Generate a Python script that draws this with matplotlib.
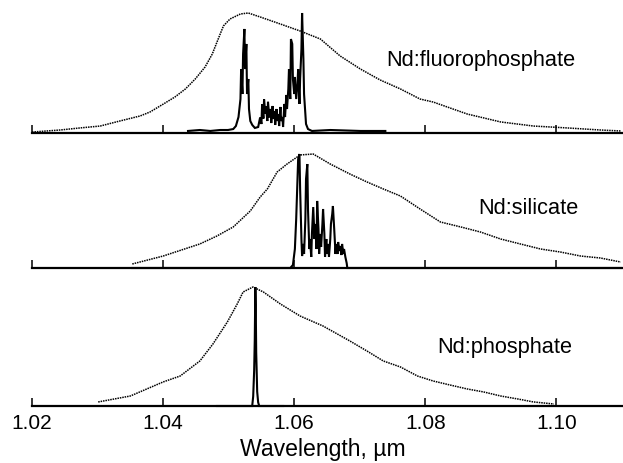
import matplotlib
matplotlib.use("Agg")
from matplotlib import pyplot as plt

plt.rcParams['font.family'] = ['Liberation Sans', 'DejaVu Sans']

# wavelength (um) and normalised intensity
# --- Nd:fluorophosphate ---
fp_fl_wl = [1.0200, 1.0243, 1.0273, 1.0304, 1.0334, 1.0365, 1.0380, 1.0403, 1.0418, 1.0434,
            1.0449, 1.0464, 1.0475, 1.0484, 1.0492, 1.0502, 1.0518, 1.0530, 1.0548, 1.0579,
            1.0609, 1.0640, 1.0670, 1.0701, 1.0731, 1.0762, 1.0792, 1.0812, 1.0864, 1.0915,
            1.0965, 1.1017, 1.1067, 1.1098]
fp_fl_int = [0.008, 0.025, 0.042, 0.058, 0.100, 0.142, 0.175, 0.250, 0.300, 0.367,
             0.450, 0.550, 0.658, 0.783, 0.892, 0.950, 0.992, 1.000, 0.967, 0.908,
             0.850, 0.783, 0.642, 0.533, 0.442, 0.367, 0.283, 0.258, 0.158, 0.092,
             0.058, 0.042, 0.025, 0.017]

fp_las_wl = [1.0438, 1.0456, 1.0472, 1.0487, 1.0499, 1.0507, 1.0511, 1.0515, 1.0518, 1.0519,
             1.0521, 1.0522, 1.0524, 1.0525, 1.0527, 1.0528, 1.0530, 1.0531, 1.0533, 1.0536,
             1.0540, 1.0545, 1.0548, 1.0550, 1.0551, 1.0553, 1.0554, 1.0556, 1.0557, 1.0559,
             1.0560, 1.0562, 1.0564, 1.0565, 1.0567, 1.0568, 1.0570, 1.0571, 1.0573, 1.0574,
             1.0576, 1.0577, 1.0579, 1.0580, 1.0582, 1.0583, 1.0585, 1.0586, 1.0588, 1.0589,
             1.0591, 1.0592, 1.0594, 1.0595, 1.0597, 1.0598, 1.0600, 1.0601, 1.0603, 1.0605,
             1.0606, 1.0608, 1.0609, 1.0611, 1.0612, 1.0614, 1.0615, 1.0617, 1.0618, 1.0621,
             1.0627, 1.0655, 1.0701, 1.0739]
fp_las_int = [0.017, 0.025, 0.017, 0.025, 0.025, 0.033, 0.058, 0.133, 0.283, 0.533,
              0.325, 0.658, 0.867, 0.533, 0.742, 0.325, 0.450, 0.200, 0.100, 0.067,
              0.042, 0.050, 0.130, 0.075, 0.240, 0.120, 0.280, 0.160, 0.220, 0.100,
              0.260, 0.130, 0.200, 0.083, 0.225, 0.117, 0.183, 0.067, 0.200, 0.100,
              0.158, 0.058, 0.217, 0.100, 0.133, 0.050, 0.242, 0.133, 0.317, 0.200,
              0.367, 0.533, 0.283, 0.783, 0.742, 0.450, 0.325, 0.467, 0.283, 0.408,
              0.533, 0.242, 0.450, 0.700, 1.000, 0.617, 0.325, 0.158, 0.075, 0.033,
              0.017, 0.025, 0.017, 0.017]

# --- Nd:silicate ---
si_fl_wl = [1.0353, 1.0400, 1.0456, 1.0482, 1.0507, 1.0533, 1.0548, 1.0559, 1.0574, 1.0589,
            1.0609, 1.0629, 1.0655, 1.0685, 1.0711, 1.0736, 1.0762, 1.0792, 1.0823, 1.0854,
            1.0884, 1.0915, 1.0945, 1.0976, 1.1006, 1.1037, 1.1067, 1.1098]
si_fl_int = [0.035, 0.104, 0.209, 0.278, 0.357, 0.496, 0.617, 0.687, 0.835, 0.904,
             0.983, 0.991, 0.904, 0.817, 0.748, 0.687, 0.626, 0.513, 0.400, 0.357,
             0.313, 0.252, 0.209, 0.165, 0.139, 0.104, 0.087, 0.052]

si_las_wl = [1.0353, 1.0594, 1.0598, 1.0601, 1.0603, 1.0605, 1.0606, 1.0608, 1.0609, 1.0611,
             1.0612, 1.0614, 1.0615, 1.0617, 1.0618, 1.0620, 1.0621, 1.0623, 1.0624, 1.0626,
             1.0627, 1.0629, 1.0631, 1.0632, 1.0634, 1.0635, 1.0637, 1.0638, 1.0640, 1.0641,
             1.0643, 1.0644, 1.0646, 1.0647, 1.0649, 1.0650, 1.0652, 1.0653, 1.0655, 1.0656,
             1.0658, 1.0659, 1.0661, 1.0663, 1.0664, 1.0666, 1.0667, 1.0669, 1.0670, 1.0672,
             1.0673, 1.0675, 1.0676, 1.0678, 1.0680, 1.0681, 1.1098]
si_las_int = [0.0, 0.0, 0.026, 0.165, 0.426, 0.774, 0.948, 0.991, 0.687, 0.252,
              0.104, 0.209, 0.122, 0.426, 0.774, 0.904, 0.513, 0.165, 0.252, 0.096,
              0.296, 0.530, 0.252, 0.383, 0.165, 0.583, 0.339, 0.122, 0.296, 0.183,
              0.383, 0.513, 0.296, 0.096, 0.252, 0.122, 0.209, 0.096, 0.252, 0.383,
              0.470, 0.539, 0.339, 0.122, 0.209, 0.122, 0.226, 0.148, 0.191, 0.113,
              0.209, 0.122, 0.165, 0.096, 0.043, 0.0, 0.0]

# --- Nd:phosphate ---
ph_fl_wl = [1.0301, 1.0350, 1.0400, 1.0426, 1.0456, 1.0476, 1.0498, 1.0513, 1.0522, 1.0537,
            1.0553, 1.0579, 1.0609, 1.0644, 1.0685, 1.0711, 1.0736, 1.0762, 1.0788, 1.0812,
            1.0838, 1.0864, 1.0889, 1.0915, 1.0941, 1.0965, 1.0996]
ph_fl_int = [0.034, 0.084, 0.202, 0.252, 0.378, 0.521, 0.706, 0.857, 0.958, 1.000,
             0.958, 0.857, 0.756, 0.672, 0.546, 0.462, 0.378, 0.328, 0.252, 0.210,
             0.176, 0.143, 0.118, 0.084, 0.059, 0.034, 0.017]

ph_las_wl = [1.04822, 1.05328, 1.05359, 1.05374, 1.05389, 1.05398, 1.05407, 1.05413, 1.05420,
             1.05427, 1.05435, 1.05450, 1.05466, 1.05832]
ph_las_int = [0.0, 0.0, 0.0, 0.08, 0.30, 0.55, 1.00, 0.85, 0.45, 0.30, 0.12, 0.03, 0.0, 0.0]

labels = ['Nd:fluorophosphate', 'Nd:silicate', 'Nd:phosphate']
xticks = [1.02, 1.04, 1.06, 1.08, 1.10]

W, H = 623, 464
fig = plt.figure(figsize=(W / 100, H / 100), dpi=100)

# (baseline px from top, peak height px)
panels = [(134, 120, fp_fl_wl, fp_fl_int, fp_las_wl, fp_las_int),
          (269, 115, si_fl_wl, si_fl_int, si_las_wl, si_las_int),
          (407, 119, ph_fl_wl, ph_fl_int, ph_las_wl, ph_las_int)]

axes = []
for i, (base, hgt, flw, fli, lw_, li) in enumerate(panels):
    ax = fig.add_axes([32 / W, (H - base) / H, 590 / W, hgt / H])
    ax.plot(flw, fli, color='black', lw=1.1, ls=(0, (1, 0.6)), clip_on=False)
    ax.plot(lw_, li, color='black', lw=1.5, clip_on=False, solid_joinstyle='miter')
    ax.set_xlim(1.02, 1.11)
    ax.set_ylim(0, 1)
    for s in ['top', 'left', 'right']:
        ax.spines[s].set_visible(False)
    ax.spines['bottom'].set_linewidth(1.6)
    ax.set_yticks([])
    ax.set_xticks(xticks)
    ax.tick_params(axis='x', direction='in', length=6, width=1.1,
                   labelsize=15, pad=5, labelbottom=(i == 2))
    ax.patch.set_visible(False)
    axes.append(ax)

axes[2].set_xticklabels(['%.2f' % t for t in xticks])

fig.text(575 / W, 1 - 66 / H, labels[0], ha='right', va='baseline', fontsize=15.7)
fig.text(578 / W, 1 - 214 / H, labels[1], ha='right', va='baseline', fontsize=15.7)
fig.text(572 / W, 1 - 353 / H, labels[2], ha='right', va='baseline', fontsize=15.7)
fig.text(323 / W, 1 - 456 / H, 'Wavelength, \u00b5m', ha='center', va='baseline', fontsize=16.6)

plt.savefig('out.png', dpi=100)
